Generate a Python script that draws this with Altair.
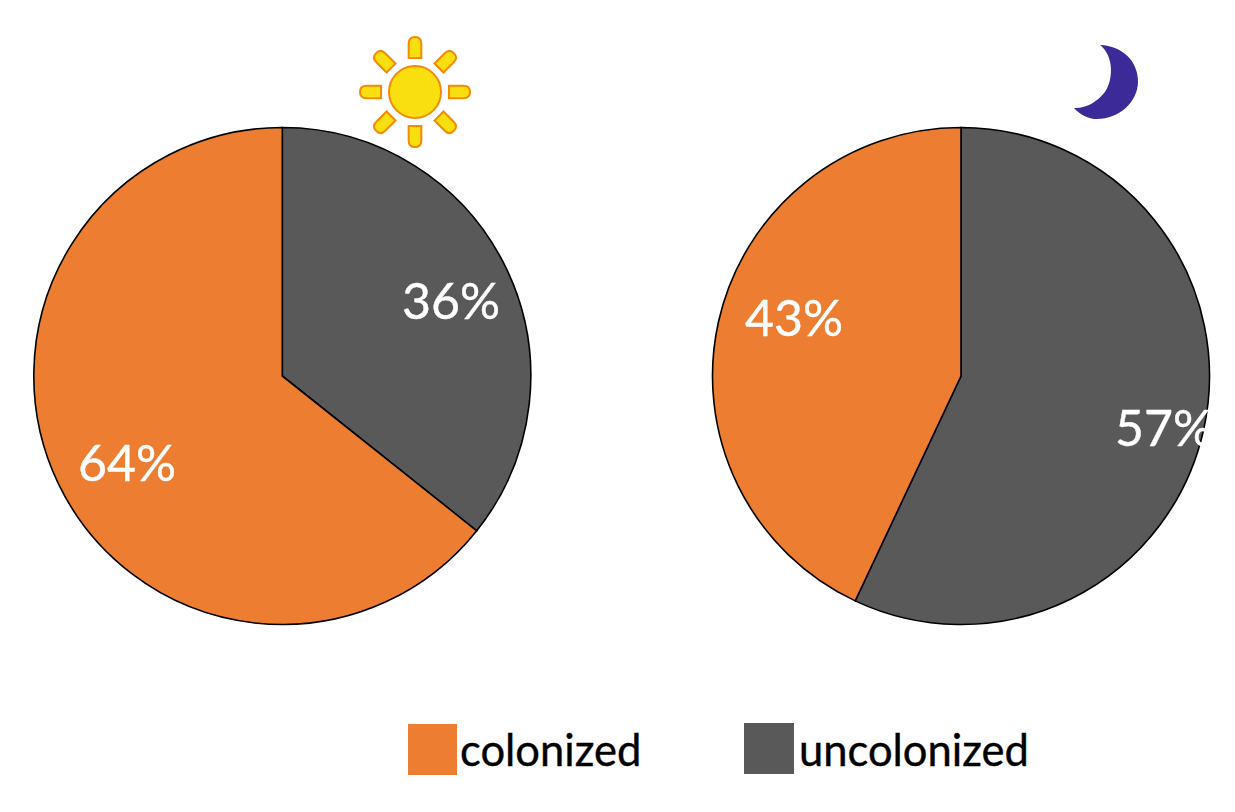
import altair as alt
import pandas as pd

W, H = 1215, 780

# pies
groups = ["uncolonized", "colonized"]
colors = ["#595959", "#ED7D31"]
day_values = [35.7, 64.3]
night_values = [57, 43]
pie_cx = [274.3, 953]
pie_cy = [368, 368]
pie_radius = 248.5

# percentage labels
label_text = ["36%", "64%", "43%", "57%"]
label_x = [394, 70, 737, 1107]
label_y = [311, 473, 328, 438]

# legend
legend_names = ["colonized", "uncolonized"]
legend_colors = ["#ED7D31", "#595959"]
legend_x0 = [400, 736]
legend_x1 = [449, 786]
legend_y0 = [716, 715]
legend_y1 = [767, 766]
legend_tx = [452, 791]
legend_ty = [757.5, 757.5]

# icons
sun_x, sun_y = 407, 84
ray_angles = [0, 45, 90, 135, 180, 225, 270, 315]
RAY = ("M-0.115,-0.617 L-0.115,-0.88 Q-0.115,-1 0,-1 Q0.115,-1 0.115,-0.88 "
       "L0.115,-0.617 Z")
MOON = ("M-0.16,-1 C0.45,-0.98 0.865,-0.55 0.865,-0.02 C0.865,0.55 0.35,1 -0.243,1 "
        "C-0.48,1 -0.7,0.88 -0.865,0.70 C-0.55,0.72 -0.25,0.55 -0.03,0.27 "
        "C0.2,-0.05 0.22,-0.7 -0.16,-1 Z")
moon_x, moon_y = 1098, 74

xs = alt.Scale(domain=[0, W], range=[0, W])
ys = alt.Scale(domain=[0, H], range=[0, H])
X = lambda f: alt.X(f, type="quantitative", scale=xs, axis=None)
Y = lambda f: alt.Y(f, type="quantitative", scale=ys, axis=None)


def pie(values, cx, cy):
    df = pd.DataFrame({"group": groups, "value": values, "idx": [0, 1],
                       "cx": cx, "cy": cy})
    return alt.Chart(df).mark_arc(
        radius=pie_radius, stroke="#000000", strokeWidth=1.6
    ).encode(
        x=X("cx"), y=Y("cy"),
        theta=alt.Theta("value:Q", stack=True, scale=alt.Scale(domain=[0, 100])),
        color=alt.Color("group:N", scale=alt.Scale(domain=groups, range=colors), legend=None),
        order=alt.Order("idx:Q"),
    )


labels = alt.Chart(pd.DataFrame({"t": label_text, "x": label_x, "y": label_y})).mark_text(
    font="Lato", fontSize=50, color="white", align="left", baseline="alphabetic",
    stroke="white", strokeWidth=0.4
).encode(x=X("x"), y=Y("y"), text="t:N")

swatches = alt.Chart(pd.DataFrame({
    "n": legend_names, "x0": legend_x0, "x1": legend_x1, "y0": legend_y0, "y1": legend_y1,
})).mark_rect().encode(
    x=X("x0"), x2="x1", y=Y("y0"), y2="y1",
    fill=alt.Fill("n:N", scale=alt.Scale(domain=legend_names, range=legend_colors), legend=None),
)

legend_text = alt.Chart(pd.DataFrame({"t": legend_names, "x": legend_tx, "y": legend_ty})).mark_text(
    font="Lato", fontSize=43.5, color="#000000", align="left", baseline="alphabetic",
    stroke="#000000", strokeWidth=0.4
).encode(x=X("x"), y=Y("y"), text="t:N")

rays = alt.Chart(pd.DataFrame({"a": ray_angles, "x": sun_x, "y": sun_y})).mark_point(
    shape=RAY, size=110 ** 2, filled=True, fill="#FADF10", stroke="#F58A07",
    strokeWidth=2, opacity=1
).encode(x=X("x"), y=Y("y"), angle=alt.Angle("a:Q", scale=alt.Scale(domain=[0, 360], range=[0, 360])))

disc = alt.Chart(pd.DataFrame({"x": [sun_x], "y": [sun_y]})).mark_point(
    shape="circle", size=52 ** 2, filled=True, fill="#FADF10",
    stroke="#F58A07", strokeWidth=2, opacity=1
).encode(x=X("x"), y=Y("y"))

moon = alt.Chart(pd.DataFrame({"x": [moon_x], "y": [moon_y]})).mark_point(
    shape=MOON, size=74 ** 2, filled=True, fill="#3B2A97", strokeWidth=0, opacity=1
).encode(x=X("x"), y=Y("y"))

chart = alt.layer(
    pie(day_values, pie_cx[0], pie_cy[0]),
    pie(night_values, pie_cx[1], pie_cy[1]),
    labels, swatches, legend_text, rays, disc, moon,
).properties(
    width=W, height=H, padding=0, autosize=alt.AutoSizeParams(type="none"),
    background="white",
).configure_view(stroke=None)

chart.save("out.html", embed_options={"renderer": "svg", "actions": False})
